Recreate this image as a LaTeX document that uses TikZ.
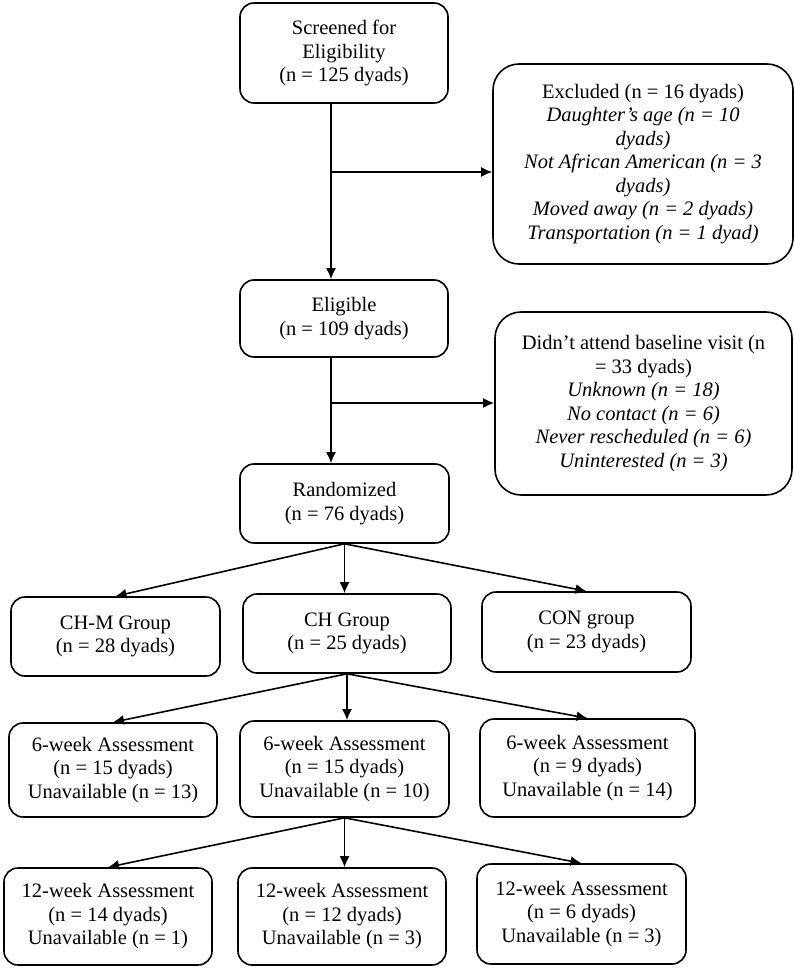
\documentclass[tikz,border=0pt]{standalone}
\usepackage{fontspec}
\setmainfont{Liberation Serif}
\usetikzlibrary{arrows.meta}

\begin{document}
\begin{tikzpicture}[x=1pt, y=-1pt,
  box/.style={draw, line width=1.6pt, rounded corners=14pt, align=center, inner sep=0pt, font=\fontsize{20.5}{23.5}\selectfont},
  sidebox/.style={box, rounded corners=26pt},
  flow/.style={line width=1.6pt, -{Latex[length=11pt, width=10pt]}}]
\useasboundingbox (0,0) rectangle (794,968);
\node[box, minimum width=208pt, minimum height=100pt] (screen) at (344,53) {Screened for\\Eligibility\\(n = 125 dyads)};
\node[sidebox, minimum width=300pt, minimum height=200pt] (excl) at (643,164) {Excluded (n = 16 dyads)\\\textit{Daughter's age (n = 10}\\\textit{dyads)}\\\textit{Not African American (n = 3}\\\textit{dyads)}\\\textit{Moved away (n = 2 dyads)}\\\textit{Transportation (n = 1 dyad)}};
\node[box, minimum width=208pt, minimum height=77pt] (elig) at (344,318.5) {Eligible\\(n = 109 dyads)};
\node[sidebox, minimum width=297pt, minimum height=183pt] (skip) at (643.5,403.5) {Didn't attend baseline visit (n\\= 33 dyads)\\\textit{Unknown (n = 18)}\\\textit{No contact (n = 6)}\\\textit{Never rescheduled (n = 6)}\\\textit{Uninterested (n = 3)}};
\node[box, minimum width=209pt, minimum height=79pt] (rand) at (344.5,503.5) {Randomized\\(n = 76 dyads)};
\node[box, minimum width=209pt, minimum height=79pt] (chm) at (115.5,636.5) {CH-M Group\\(n = 28 dyads)};
\node[box, minimum width=208pt, minimum height=79pt] (ch) at (347,633.5) {CH Group\\(n = 25 dyads)};
\node[box, minimum width=209pt, minimum height=80pt] (con) at (586.5,632) {CON group\\(n = 23 dyads)};
\node[box, minimum width=208pt, minimum height=94pt] (wksixa) at (113,770) {6-week Assessment\\(n = 15 dyads)\\Unavailable (n = 13)};
\node[box, minimum width=209pt, minimum height=96pt] (wksixb) at (344.5,769) {6-week Assessment\\(n = 15 dyads)\\Unavailable (n = 10)};
\node[box, minimum width=215pt, minimum height=98pt] (wksixc) at (587.5,768) {6-week Assessment\\(n = 9 dyads)\\Unavailable (n = 14)};
\node[box, minimum width=208pt, minimum height=97pt] (wktwa) at (108,916.5) {12-week Assessment\\(n = 14 dyads)\\Unavailable (n = 1)};
\node[box, minimum width=208pt, minimum height=97pt] (wktwb) at (342,916.5) {12-week Assessment\\(n = 12 dyads)\\Unavailable (n = 3)};
\node[box, minimum width=209pt, minimum height=100pt] (wktwc) at (581.5,914) {12-week Assessment\\(n = 6 dyads)\\Unavailable (n = 3)};
\coordinate (trunk) at (331,0);
\coordinate (splitone) at (331,172);
\coordinate (splittwo) at (331,403);
\draw[flow] (screen.south -| trunk) -- (elig.north -| trunk);
\draw[flow] (splitone) -- (splitone -| excl.west);
\draw[flow] (elig.south -| trunk) -- (rand.north -| trunk);
\draw[flow] (splittwo) -- (splittwo -| skip.west);
\draw[flow] (rand.south) -- (chm.north);
\draw[flow] (rand.south) -- (rand.south |- ch.north);
\draw[flow] (rand.south) -- (con.north);
\draw[flow] (ch.south) -- (wksixa.north);
\draw[flow] (ch.south) -- (ch.south |- wksixb.north);
\draw[flow] (ch.south) -- (wksixc.north);
\draw[flow] (wksixb.south) -- (wktwa.north);
\draw[flow] (wksixb.south) -- (wksixb.south |- wktwb.north);
\draw[flow] (wksixb.south) -- (wktwc.north);
\end{tikzpicture}
\end{document}
